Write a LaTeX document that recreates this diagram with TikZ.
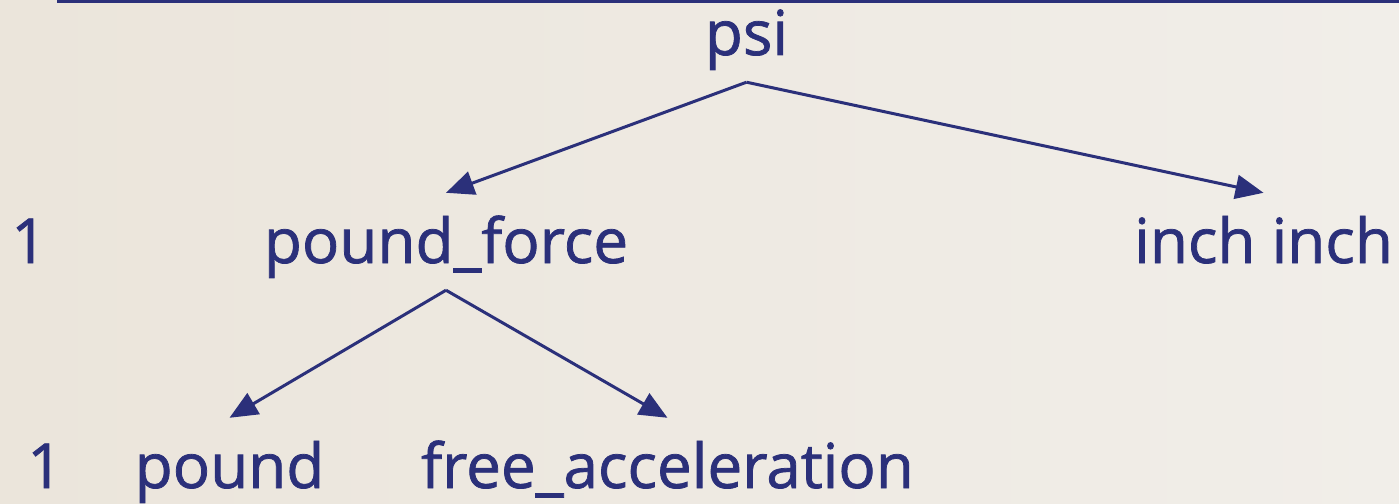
\documentclass[tikz,border=0pt]{standalone}
\usepackage{fontspec}
\newfontfamily\unitfont{Open Sans}[FakeBold=1.2]
\usetikzlibrary{arrows.meta}
\definecolor{inkblue}{RGB}{43,48,122}
\definecolor{paper}{RGB}{235,229,219}
\definecolor{paperlight}{RGB}{241,238,233}
\definecolor{trim}{RGB}{128,124,64}

\begin{document}
\begin{tikzpicture}[x=1pt, y=-1pt,
    unit/.style={text=inkblue, font=\unitfont\fontsize{62}{74}\selectfont, anchor=base,
      inner xsep=0pt, inner ysep=22pt, text height=48pt, text depth=5pt},
    link/.style={-{Triangle[length=28pt,width=24pt]}, draw=inkblue, line width=3pt}]
    % paper and the edge of the box above
    \shade[left color=paper, right color=paperlight] (0,0) rectangle (1399,503);
    \useasboundingbox (0,0) rectangle (1399,503);
    \draw[inkblue, line width=3pt] (58.5,-10) |- (1410,2);
    \draw[trim, line width=1pt] (60,0) -- (1410,0);

    % psi = pound_force / (inch inch)
    \node[unit] (psi) at (746.5,55) {psi};
    \node[unit] (numtop) at (29,263) {1};
    \node[unit] (pf) at (446,263) {pound\_force};
    \node[unit] (inin) at (1263.5,263) {inch inch};

    % pound_force = pound free_acceleration
    \node[unit] (numbot) at (45,488) {1};
    \node[unit] (lb) at (229.5,488) {pound};
    \node[unit] (ga) at (667.5,488) {free\_acceleration};

    \draw[link] (psi.south) -- (pf.north);
    \draw[link] (psi.south) -- (inin.north);
    \draw[link] (pf.south) -- (lb.north);
    \draw[link] (pf.south) -- (ga.north);
\end{tikzpicture}
\end{document}
